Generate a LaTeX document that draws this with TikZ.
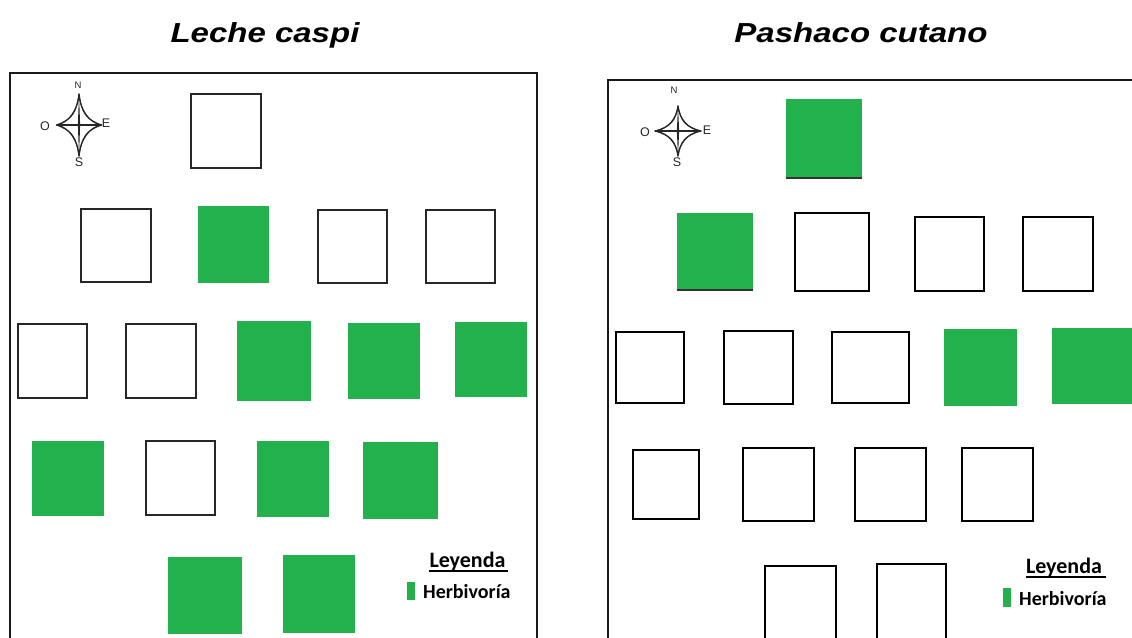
\documentclass[tikz,border=0pt]{standalone}
\usepackage{fontspec}
\setmainfont{Liberation Sans}
\newfontfamily\legendfont{Carlito}
\definecolor{herbgreen}{RGB}{34,177,76}

\tikzset{
  x=1pt, y=-1pt,
  panel/.style={line width=1.8pt, draw=black!90},
  emptyplot/.style={draw=black!85, line width=1.9pt, fill=white, inner sep=0pt, outer sep=0pt},
  emptyplotB/.style={emptyplot, draw=black, line width=2.2pt},
  herbplot/.style={fill=herbgreen, draw=none, inner sep=0pt, outer sep=0pt},
  titletext/.style={anchor=base, inner sep=0pt, font=\fontsize{27.5}{30}\selectfont\bfseries\itshape},
  legendhead/.style={anchor=base, inner sep=0pt, font=\legendfont\fontsize{22}{24}\selectfont\bfseries},
  legenditem/.style={anchor=base west, inner sep=0pt, font=\legendfont\fontsize{20}{22}\selectfont\bfseries},
  compassletter/.style={inner sep=0pt, text=black!85, font=\fontsize{12.5}{12}\selectfont},
}

% a plot drawn from its corner coordinates: style, x1, y1, x2, y2, name
\newcommand\plotbox[6]{%
  \node[#1, minimum width={#4-#2}, minimum height={#5-#3}] (#6) at ({(#2+#4)/2},{(#3+#5)/2}) {};}

% compass rose: centre x, centre y, horizontal half size, vertical half size
\newcommand\compassrose[4]{%
  \begin{scope}[shift={(#1,#2)}, x=#3pt, y=-#4pt, line width=1.1pt, line join=round, draw=black!85]
    \draw (0,-1) .. controls (0.12,-0.4) and (0.3,-0.18) .. (1,0)
          .. controls (0.3,0.18) and (0.12,0.4) .. (0,1)
          .. controls (-0.12,0.4) and (-0.3,0.18) .. (-1,0)
          .. controls (-0.3,-0.18) and (-0.12,-0.4) .. cycle;
    \draw (0,-1) .. controls (0.05,-0.5) and (0.45,-0.06) .. (1,0)
          .. controls (0.45,0.06) and (0.05,0.5) .. (0,1)
          .. controls (-0.05,0.5) and (-0.45,0.06) .. (-1,0)
          .. controls (-0.45,-0.06) and (-0.05,-0.5) .. cycle;
    \fill[black!85] (0,-1) -- (0.05,0) -- (0,1) -- (-0.05,0) -- cycle;
    \draw (-1,0) -- (1,0);
  \end{scope}}

\begin{document}
\begin{tikzpicture}
\useasboundingbox (0,0) rectangle (1132,637);

% ---------------- Leche caspi ----------------
\node[titletext] (titleA) at (265,42) {\scalebox{1.2}[1]{Leche caspi}};
\draw[panel] (10,645) -- (10,73) -- (537,73) -- (537,645);

\compassrose{79}{125}{22.5}{31}
\node[compassletter, font=\fontsize{9.5}{9}\selectfont] (nA) at (78,85) {N};
\node[compassletter] (sA) at (79,162) {S};
\node[compassletter] (oA) at (45,126) {O};
\node[compassletter] (eA) at (106,123) {E};

\plotbox{emptyplot}{191}{94}{261}{168}{a11}
\plotbox{emptyplot}{81}{209}{151}{282}{a21}
\plotbox{herbplot}{198}{206}{269}{283}{a22}
\plotbox{emptyplot}{318}{210}{387}{283}{a23}
\plotbox{emptyplot}{426}{210}{495}{283}{a24}
\plotbox{emptyplot}{18}{324}{87}{398}{a31}
\plotbox{emptyplot}{126}{324}{196}{398}{a32}
\plotbox{herbplot}{237}{321}{311}{401}{a33}
\plotbox{herbplot}{348}{323}{420}{399}{a34}
\plotbox{herbplot}{455}{322}{527}{397}{a35}
\plotbox{herbplot}{32}{441}{104}{516}{a41}
\plotbox{emptyplot}{146}{441}{215}{515}{a42}
\plotbox{herbplot}{257}{441}{329}{517}{a43}
\plotbox{herbplot}{363}{442}{438}{519}{a44}
\plotbox{herbplot}{168}{557}{242}{634}{a51}
\plotbox{herbplot}{283}{555}{355}{633}{a52}

\node[legendhead] (legA) at (467.5,567) {Leyenda};
\draw[line width=1.6pt] (legA.base west) ++(0,4) -- ++(79,0);
\plotbox{herbplot}{407}{582}{415}{600}{keyA}
\node[legenditem] (itemA) at (423,598) {Herbivoría};

% ---------------- Pashaco cutano ----------------
\node[titletext] (titleB) at (861,42) {\scalebox{1.2}[1]{Pashaco cutano}};
\draw[panel] (608,645) -- (608,80) -- (1140,80);

\compassrose{678}{131}{23}{25}
\node[compassletter, font=\fontsize{9.5}{9}\selectfont] (nB) at (674,90) {N};
\node[compassletter] (sB) at (677,162) {S};
\node[compassletter] (oB) at (645,132) {O};
\node[compassletter] (eB) at (707,130) {E};

\plotbox{herbplot}{786}{99}{862}{178}{b11}
\draw[line width=1.2pt, black!80] (b11.south west) -- (b11.south east);
\plotbox{herbplot}{677}{213}{753}{290}{b21}
\draw[line width=1.2pt, black!80] (b21.south west) -- (b21.south east);
\plotbox{emptyplotB}{795}{213}{869}{291}{b22}
\plotbox{emptyplotB}{915}{217}{984}{291}{b23}
\plotbox{emptyplotB}{1023}{217}{1093}{291}{b24}
\plotbox{emptyplotB}{616}{332}{684}{403}{b31}
\plotbox{emptyplotB}{724}{331}{793}{404}{b32}
\plotbox{emptyplotB}{832}{332}{909}{403}{b33}
\plotbox{herbplot}{944}{329}{1017}{406}{b34}
\plotbox{herbplot}{1052}{328}{1136}{404}{b35}
\plotbox{emptyplotB}{633}{450}{699}{519}{b41}
\plotbox{emptyplotB}{743}{448}{814}{521}{b42}
\plotbox{emptyplotB}{855}{448}{926}{521}{b43}
\plotbox{emptyplotB}{962}{448}{1033}{521}{b44}
\plotbox{emptyplotB}{765}{566}{836}{642}{b51}
\plotbox{emptyplotB}{877}{564}{946}{642}{b52}

\node[legendhead] (legB) at (1064,573) {Leyenda};
\draw[line width=1.6pt] (legB.base west) ++(0,4) -- ++(80,0);
\plotbox{herbplot}{1003}{588}{1011}{607}{keyB}
\node[legenditem] (itemB) at (1019,605) {Herbivoría};
\end{tikzpicture}
\end{document}
